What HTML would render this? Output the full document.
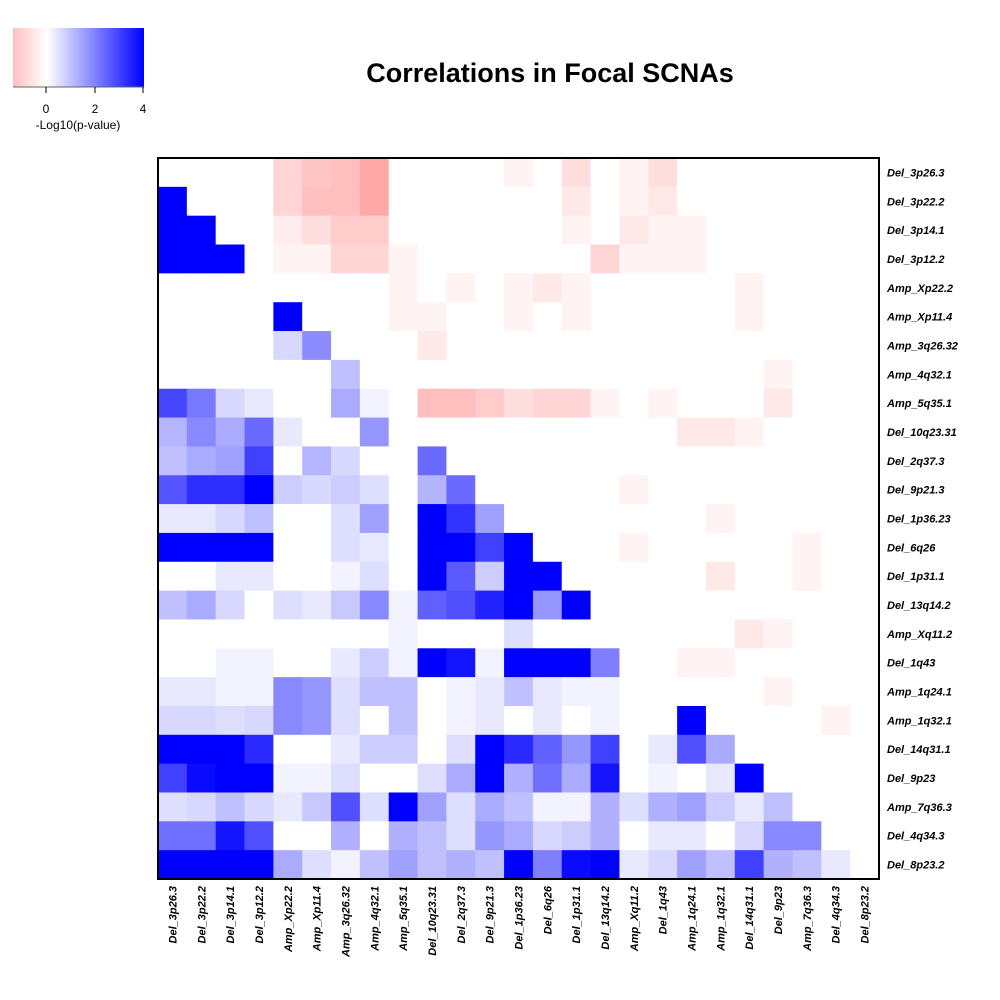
<!DOCTYPE html>
<html><head><meta charset="utf-8"><style>
html,body{margin:0;padding:0;background:#fff;}
svg{display:block;font-family:"Liberation Sans",Arial,sans-serif;}
</style></head><body>
<svg id="chart" width="1000" height="1000" viewBox="0 0 1000 1000">
<defs><linearGradient id="cbg" x1="0" x2="1" y1="0" y2="0">
<stop offset="0" stop-color="#ffc0c0"/><stop offset="0.26" stop-color="#ffffff"/><stop offset="1" stop-color="#0000ff"/>
</linearGradient></defs>
<text x="550" y="82" text-anchor="middle" font-size="27" font-weight="bold">Correlations in Focal SCNAs</text>
<g>
<rect x="13" y="28" width="131" height="59" fill="url(#cbg)"/>
<line x1="13" y1="87" x2="144" y2="87" stroke="#666" stroke-width="1"/>
<line x1="46" y1="87" x2="46" y2="93" stroke="#000"/><line x1="95" y1="87" x2="95" y2="93" stroke="#000"/><line x1="143" y1="87" x2="143" y2="93" stroke="#000"/>
<text x="46" y="113" text-anchor="middle" font-size="12">0</text>
<text x="95" y="113" text-anchor="middle" font-size="12">2</text>
<text x="143" y="113" text-anchor="middle" font-size="12">4</text>
<text x="78" y="129" text-anchor="middle" font-size="12">-Log10(p-value)</text>
</g>
<g id="cells"></g>
<rect x="158" y="158" width="721" height="721" fill="none" stroke="#000" stroke-width="2"/>
<g id="rowlabels"></g>
<g id="collabels"></g>
</svg>
<script>
const labels = ["Del_3p26.3","Del_3p22.2","Del_3p14.1","Del_3p12.2","Amp_Xp22.2","Amp_Xp11.4","Amp_3q26.32","Amp_4q32.1","Amp_5q35.1","Del_10q23.31","Del_2q37.3","Del_9p21.3","Del_1p36.23","Del_6q26","Del_1p31.1","Del_13q14.2","Amp_Xq11.2","Del_1q43","Amp_1q24.1","Amp_1q32.1","Del_14q31.1","Del_9p23","Amp_7q36.3","Del_4q34.3","Del_8p23.2"];
const values = [
[0,0,0,0,-.66,-.91,-1,-1.36,0,0,0,0,-.19,0,-.52,0,-.19,-.52,0,0,0,0,0,0,0],
[4,0,0,0,-.66,-1,-1,-1.36,0,0,0,0,0,0,-.36,0,-.19,-.36,0,0,0,0,0,0,0],
[4,4,0,0,-.3,-.52,-.82,-.82,0,0,0,0,0,0,-.19,0,-.36,-.19,-.19,0,0,0,0,0,0],
[4,4,4,0,-.19,-.19,-.66,-.66,-.19,0,0,0,0,0,0,-.66,-.19,-.19,-.19,0,0,0,0,0,0],
[0,0,0,0,0,0,0,0,-.19,0,-.19,0,-.19,-.36,-.19,0,0,0,0,0,-.19,0,0,0,0],
[0,0,0,0,4,0,0,0,-.19,-.19,0,0,-.19,0,-.19,0,0,0,0,0,-.19,0,0,0,0],
[0,0,0,0,.61,1.8,0,0,0,-.36,0,0,0,0,0,0,0,0,0,0,0,0,0,0,0],
[0,0,0,0,0,0,.99,0,0,0,0,0,0,0,0,0,0,0,0,0,0,-.19,0,0,0],
[2.9,2.12,.61,.36,0,0,1.33,.19,0,-1,-1,-.82,-.52,-.66,-.66,-.19,0,-.19,0,0,0,-.36,0,0,0],
[1.16,1.87,1.33,2.34,.36,0,0,1.65,0,0,0,0,0,0,0,0,0,0,-.36,-.36,-.19,0,0,0,0],
[.99,1.33,1.49,3.0,0,1.16,.61,0,0,2.34,0,0,0,0,0,0,0,0,0,0,0,0,0,0,0],
[2.67,3.28,3.28,4,.8,.61,.8,.52,0,1.16,2.34,0,0,0,0,0,-.19,0,0,0,0,0,0,0,0],
[.36,.36,.61,.99,0,0,.52,1.49,0,4,3.2,1.49,0,0,0,0,0,0,0,-.19,0,0,0,0,0],
[4,4,4,4,0,0,.52,.36,0,4,4,3.0,4,0,0,0,-.19,0,0,0,0,0,-.19,0,0],
[0,0,.36,.36,0,0,.19,.52,0,4,2.59,.8,4,4,0,0,0,0,0,-.36,0,0,-.19,0,0],
[.99,1.33,.61,0,.52,.36,.86,1.87,.19,2.5,2.75,3.47,4,1.65,4,0,0,0,0,0,0,0,0,0,0],
[0,0,0,0,0,0,0,0,.19,0,0,0,.52,0,0,0,0,0,0,0,-.36,-.19,0,0,0],
[0,0,.19,.19,0,0,.36,.8,.19,4,3.69,.19,4,4,4,1.99,0,0,-.19,-.19,0,0,0,0,0],
[.36,.36,.19,.19,1.87,1.65,.52,.99,.99,0,.19,.36,.99,.36,.19,.19,0,0,0,0,0,-.19,0,0,0],
[.61,.61,.52,.61,1.87,1.65,.52,0,.99,0,.19,.36,0,.36,0,.19,0,0,4,0,0,0,0,-.19,0],
[4,4,4,3.34,0,0,.36,.8,.8,0,.52,4,3.34,2.49,1.65,3.0,0,.36,2.75,1.33,0,0,0,0,0],
[3.0,3.84,4,4,.19,.19,.52,0,0,.52,1.33,4,1.24,2.24,1.33,3.69,0,.19,0,.36,4,0,0,0,0],
[.52,.61,.99,.61,.36,.86,2.75,.52,4,1.49,.52,1.33,.99,.19,.19,1.24,.52,1.24,1.49,.8,.36,.99,0,0,0],
[2.24,2.24,3.69,2.75,0,0,1.24,0,1.24,.99,.52,1.65,1.33,.61,.8,1.24,0,.36,.36,0,.61,1.87,1.87,0,0],
[4,4,4,4,1.33,.52,.19,.99,1.49,.99,1.24,.99,4,1.99,3.84,4,.36,.61,1.49,.99,3.0,1.24,.99,.36,0]
];
const vmax = [4];
const NS = "http://www.w3.org/2000/svg";
const X0 = 158, Y0 = 158, W = 721, H = 721;
const n = labels.length;
const cw = W / n, ch = H / n;
function xPos(j){ return X0 + j*cw; }
function yPos(i){ return Y0 + i*ch; }
function color(v){
  const c = Math.round(255*(1-Math.min(Math.abs(v),vmax[0])/vmax[0]));
  return v >= 0 ? `rgb(${c},${c},255)` : `rgb(255,${c},${c})`;
}
const cells = document.getElementById('cells');
for (let i=0;i<n;i++){
  for (let j=0;j<n;j++){
    const r = document.createElementNS(NS,'rect');
    r.setAttribute('x', xPos(j).toFixed(2));
    r.setAttribute('y', yPos(i).toFixed(2));
    r.setAttribute('width', (cw+0.6).toFixed(2));
    r.setAttribute('height', (ch+0.6).toFixed(2));
    r.setAttribute('fill', color(values[i][j]));
    
    
    cells.appendChild(r);
  }
}
const rl = document.getElementById('rowlabels');
const cl = document.getElementById('collabels');
for (let i=0;i<n;i++){
  const t = document.createElementNS(NS,'text');
  t.setAttribute('x', 887);
  t.setAttribute('y', (yPos(i)+ch/2+4).toFixed(2));
  t.setAttribute('font-size','11');
  t.setAttribute('font-weight','bold');
  t.setAttribute('font-style','italic');
  t.textContent = labels[i];
  
  
  rl.appendChild(t);
  const c = document.createElementNS(NS,'text');
  const cx = xPos(i)+cw/2+4, cy = 886;
  c.setAttribute('x', cx.toFixed(2));
  c.setAttribute('y', cy);
  c.setAttribute('font-size','11');
  c.setAttribute('font-weight','bold');
  c.setAttribute('font-style','italic');
  c.setAttribute('text-anchor','end');
  c.setAttribute('transform', `rotate(-90 ${cx.toFixed(2)} ${cy})`);
  c.textContent = labels[i];
  
  
  cl.appendChild(c);
}
</script>
</body></html>
